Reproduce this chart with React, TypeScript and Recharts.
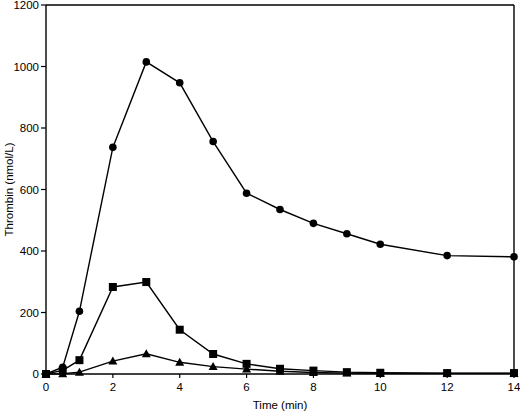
import React from 'react';
import { LineChart, Line, XAxis, YAxis, ReferenceLine } from 'recharts';

const times = [0, 0.5, 1, 2, 3, 4, 5, 6, 7, 8, 9, 10, 12, 14];
const circleSeries = [0, 22, 204, 737, 1015, 947, 756, 588, 535, 490, 456, 422, 385, 381];
const squareSeries = [0, 12, 45, 283, 299, 144, 65, 33, 17, 11, 6, 4, 3, 3];
const triangleSeries = [0, 1, 6, 42, 66, 38, 24, 16, 9, 5, 3, 2, 2, 2];
const xTicks = [0, 2, 4, 6, 8, 10, 12, 14];
const yTicks = [0, 200, 400, 600, 800, 1000, 1200];

const data = times.map((t, i) => ({
  t,
  circle: circleSeries[i],
  square: squareSeries[i],
  triangle: triangleSeries[i],
}));

const FONT = '"Liberation Sans", Arial, Helvetica, sans-serif';
const tickStyle = { fontFamily: FONT, fontSize: 11.5, fill: '#000' };

const CircleDot = (p: any) => {
  const { cx, cy } = p;
  if (cx == null || cy == null) return null;
  return <circle cx={cx} cy={cy} r={3.8} fill="#000" stroke="none" />;
};
const SquareDot = (p: any) => {
  const { cx, cy } = p;
  if (cx == null || cy == null) return null;
  return <rect x={cx - 4} y={cy - 4} width={8} height={8} fill="#000" stroke="none" />;
};
const TriangleDot = (p: any) => {
  const { cx, cy } = p;
  if (cx == null || cy == null) return null;
  return <polygon points={`${cx},${cy - 4.5} ${cx - 4.5},${cy + 3.5} ${cx + 4.5},${cy + 3.5}`} fill="#000" stroke="none" />;
};

const YLabel = (props: any) => {
  const vb = props.viewBox;
  const x = vb.x + 9;
  const y = vb.y + vb.height / 2;
  return (
    <text x={x} y={y} transform={`rotate(-90 ${x} ${y})`} textAnchor="middle" dominantBaseline="central"
      style={{ fontFamily: FONT, fontSize: 11.5, fill: '#000' }}>
      Thrombin (nmol/L)
    </text>
  );
};
const XLabel = (props: any) => {
  const vb = props.viewBox;
  return (
    <text x={vb.x + vb.width / 2} y={vb.y + 35} textAnchor="middle"
      style={{ fontFamily: FONT, fontSize: 11.5, fill: '#000' }}>
      Time (min)
    </text>
  );
};

export default function App() {
  return (
    <div style={{ position: 'absolute', left: 0, top: 0, width: 520, height: 412, background: '#fff' }}>
      <LineChart width={520} height={412} data={data} margin={{ top: 5, right: 6, bottom: 0, left: 0 }}>
        <XAxis
          dataKey="t"
          type="number"
          domain={[0, 14]}
          ticks={xTicks}
          interval={0}
          height={38}
          tickSize={4}
          tickMargin={5}
          tick={tickStyle}
          axisLine={{ stroke: '#000', strokeWidth: 1.4 }}
          tickLine={{ stroke: '#000', strokeWidth: 1.2 }}
          label={<XLabel />}
        />
        <YAxis
          type="number"
          domain={[0, 1200]}
          ticks={yTicks}
          interval={0}
          width={46}
          tickSize={5}
          tickMargin={2}
          tick={tickStyle}
          axisLine={{ stroke: '#000', strokeWidth: 1.4 }}
          tickLine={{ stroke: '#000', strokeWidth: 1.2 }}
          label={<YLabel />}
        />
        <ReferenceLine y={yTicks[yTicks.length - 1]} stroke="#000" strokeWidth={1.4} />
        <ReferenceLine x={xTicks[xTicks.length - 1]} stroke="#000" strokeWidth={1.4} />
        <Line type="linear" dataKey="triangle" stroke="#000" strokeWidth={1.4} dot={<TriangleDot />} activeDot={false} isAnimationActive={false} />
        <Line type="linear" dataKey="square" stroke="#000" strokeWidth={1.4} dot={<SquareDot />} activeDot={false} isAnimationActive={false} />
        <Line type="linear" dataKey="circle" stroke="#000" strokeWidth={1.4} dot={<CircleDot />} activeDot={false} isAnimationActive={false} />
      </LineChart>
    </div>
  );
}
